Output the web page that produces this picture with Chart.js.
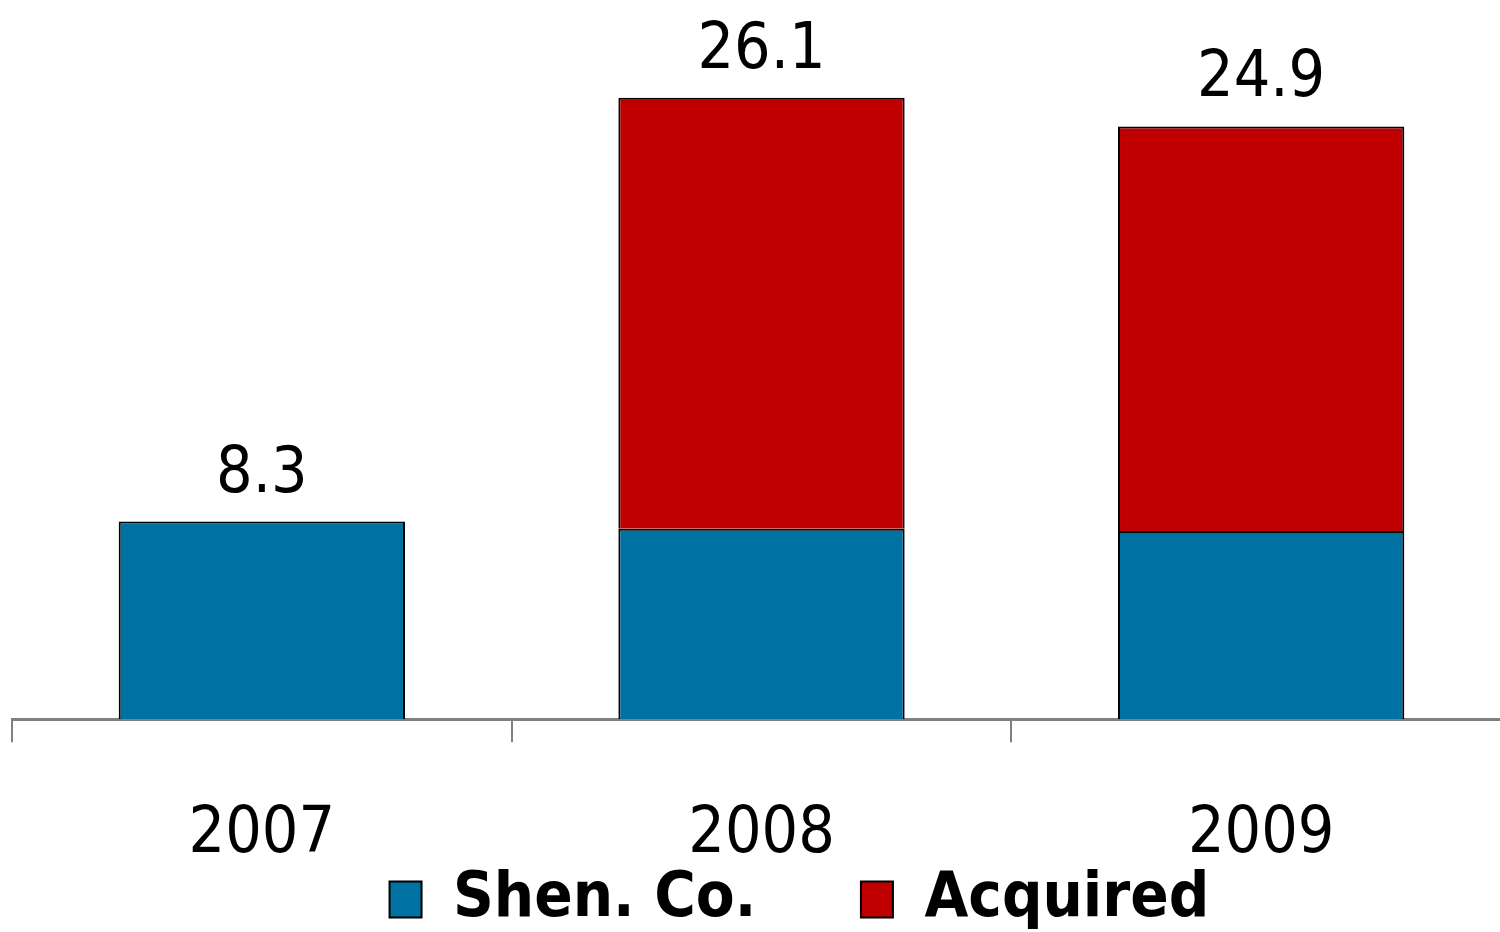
<!DOCTYPE html>
<html>
<head>
<meta charset="utf-8">
<script src="https://cdn.jsdelivr.net/npm/chart.js@4.4.1/dist/chart.umd.min.js"></script>
<style>
  html, body { margin: 0; padding: 0; background: #ffffff; overflow: hidden; width: 1500px; height: 932px; }
  #wrap { width: 1511px; height: 932px; }
  canvas { display: block; }
</style>
</head>
<body>
<div id="wrap"><canvas id="c" width="1511" height="932"></canvas></div>
<script>
const categories = ["2007", "2008", "2009"];
const shenCo = [8.3, 8.0, 7.9];
const acquired = [0, 18.1, 17.0];
const totalLabels = ["8.3", "26.1", "24.9"];
const seriesNames = ["Shen. Co.", "Acquired"];

const FONT = "'DejaVu Sans Condensed', 'DejaVu Sans', sans-serif";
const NBSP = '\u00A0';

const totalsPlugin = {
  id: 'totals',
  afterDatasetsDraw(chart) {
    const ctx = chart.ctx;
    const x = chart.scales.x, y = chart.scales.y;
    ctx.save();
    ctx.font = "64px " + FONT;
    ctx.fillStyle = "#000000";
    ctx.textAlign = "center";
    ctx.textBaseline = "alphabetic";
    categories.forEach((c, i) => {
      const total = shenCo[i] + acquired[i];
      const px = x.getPixelForValue(i);
      const py = y.getPixelForValue(total);
      ctx.fillText(totalLabels[i], px, py - 30);
    });
    ctx.restore();
  }
};

new Chart(document.getElementById('c'), {
  type: 'bar',
  data: {
    labels: categories,
    datasets: [
      { label: seriesNames[0], data: shenCo, backgroundColor: '#0071A3', borderColor: '#000000', borderWidth: 2,
        barPercentage: 0.573, categoryPercentage: 1 },
      { label: seriesNames[1], data: acquired, backgroundColor: '#C00000', borderColor: '#000000', borderWidth: 2,
        barPercentage: 0.573, categoryPercentage: 1 }
    ]
  },
  options: {
    responsive: false,
    animation: false,
    layout: { padding: { left: 12, right: 0, top: 5, bottom: -9 } },
    plugins: {
      tooltip: { enabled: false },
      legend: {
        position: 'bottom',
        align: 'end',
        labels: {
          boxWidth: 32, boxHeight: 36, padding: 6,
          color: '#000000',
          font: { family: FONT, size: 63, weight: 'bold' },
          generateLabels(chart) {
            const items = Chart.defaults.plugins.legend.labels.generateLabels(chart);
            items[0].text = items[0].text + NBSP.repeat(5);
            items[1].text = items[1].text + NBSP.repeat(15);
            return items;
          }
        }
      }
    },
    scales: {
      x: {
        stacked: true,
        grid: { display: true, drawOnChartArea: false, drawTicks: true, tickLength: 23, color: '#808080', lineWidth: 2 },
        border: { display: true, color: '#808080', width: 3 },
        ticks: {
          color: '#000000', padding: -6,
          font: { family: FONT, size: 64, lineHeight: 1.03 },
          callback(value, index) { return ['', categories[index]]; }
        }
      },
      y: {
        stacked: true, display: false, min: 0, max: 30
      }
    }
  },
  plugins: [totalsPlugin]
});
</script>
</body>
</html>
